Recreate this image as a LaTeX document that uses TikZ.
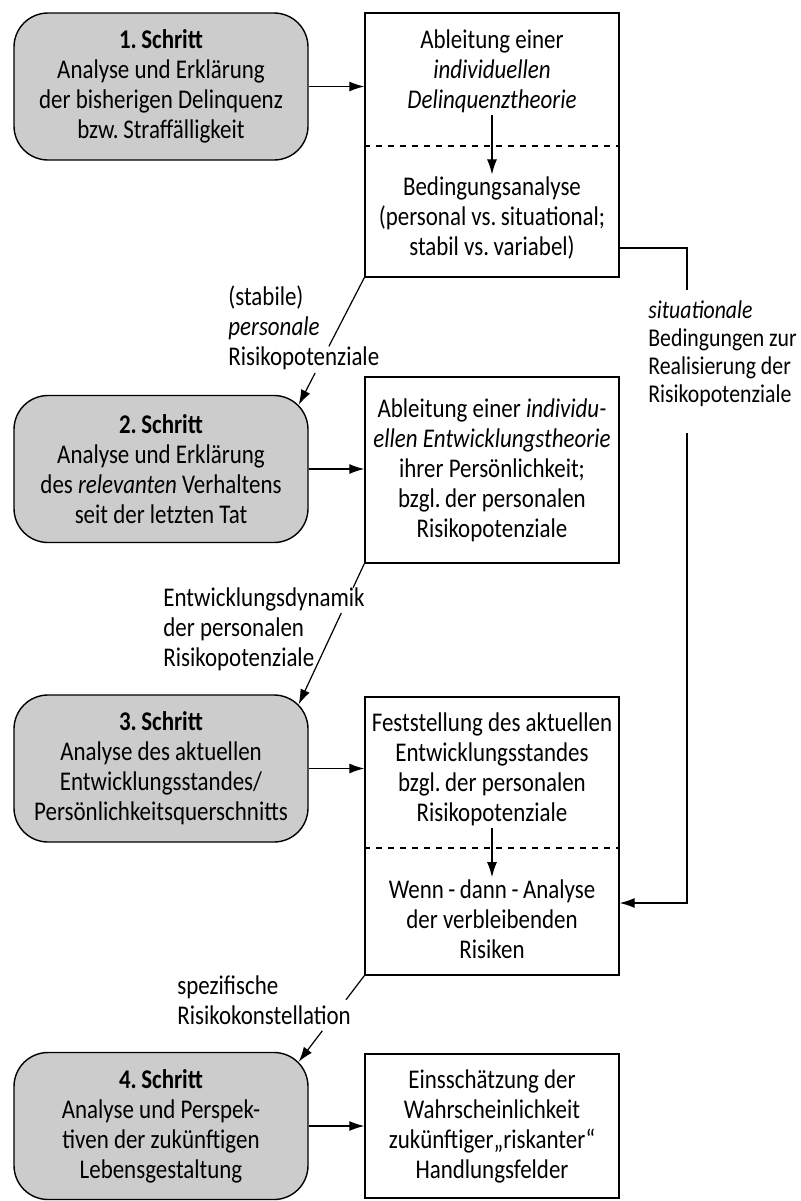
\documentclass[tikz,border=0pt]{standalone}
\usepackage{fontspec}
\setmainfont{Carlito}[FakeStretch=0.85]
\usepackage{tikz}
\usetikzlibrary{arrows.meta, positioning, calc}
\definecolor{stepgray}{gray}{0.80}

\begin{document}
\begin{tikzpicture}[
  x=0.5pt, y=-0.5pt,
  schritt/.style={draw, rounded corners=17pt, fill=stepgray, minimum width=147pt, minimum height=73.5pt, align=center, line width=0.7pt, font=\fontsize{13.5}{15}\selectfont},
  ergebnis/.style={draw, minimum width=127pt, inner xsep=2pt, align=center, line width=0.7pt, font=\fontsize{13.5}{15}\selectfont},
  txt/.style={align=center, inner sep=1pt, font=\fontsize{13.5}{15}\selectfont},
  note/.style={align=left, inner sep=0pt, anchor=west, font=\fontsize{13.5}{15}\selectfont},
  arrow/.style={-{Latex[length=7.5pt,width=5pt]}, line width=0.6pt},
  link/.style={line width=0.6pt}
]
\useasboundingbox (0,0) rectangle (801,1201);

% Schritte links
\node[schritt] (S1) at (161,86.5) {\textbf{1.\,Schritt}\\Analyse und Erklärung\\der bisherigen Delinquenz\\bzw.\,Straffälligkeit};
\node[schritt] (S2) at (161,469) {\textbf{2.\,Schritt}\\Analyse und Erklärung\\des \textit{relevanten} Verhaltens\\seit der letzten Tat};
\node[schritt] (S3) at (161,768.5) {\textbf{3.\,Schritt}\\Analyse des aktuellen\\Entwicklungsstandes/\\Persönlichkeitsquerschnitts};
\node[schritt] (S4) at (161,1126) {\textbf{4.\,Schritt}\\Analyse und Perspek-\\tiven der zukünftigen\\Lebensgestaltung};

% Ergebnisse rechts
\node[ergebnis, minimum height=132pt] (A) at (492,145) {};
\node[txt] (Atop) at (492,71.5) {Ableitung einer\\\textit{individuellen}\\\textit{Delinquenztheorie}};
\node[txt] (Abot) at (492,218) {Bedingungsanalyse\\(personal vs.\,situational;\\stabil vs.\,variabel)};
\draw[dashed, line width=0.6pt] (A.west |- 0,146) -- (A.east |- 0,146);
\draw[arrow] (Atop.south) -- (Abot.north);

\node[ergebnis, minimum height=93pt] (B) at (492,470) {Ableitung einer \textit{individu-}\\\textit{ellen Entwicklungstheorie}\\ihrer Persönlichkeit;\\bzgl.\,der personalen\\Risikopotenziale};

\node[ergebnis, minimum height=139pt] (C) at (492,836) {};
\node[txt] (Ctop) at (492,769.5) {Feststellung des aktuellen\\Entwicklungsstandes\\bzgl.\,der personalen\\Risikopotenziale};
\node[txt] (Cbot) at (492,919) {Wenn\,-\,dann\,-\,Analyse\\der verbleibenden\\Risiken};
\draw[dashed, line width=0.6pt] (C.west |- 0,848) -- (C.east |- 0,848);
\draw[arrow] (Ctop.south) -- (Cbot.north);

\node[ergebnis, minimum height=72pt] (D) at (492,1126) {Einsschätzung der\\Wahrscheinlichkeit\\zukünftiger„riskanter“\\Handlungsfelder};

% waagerechte Pfeile
\draw[arrow] (S1.east) -- (S1.east -| A.west);
\draw[arrow] (S2.east) -- (S2.east -| B.west);
\draw[arrow] (S3.east) -- (S3.east -| C.west);
\draw[arrow] (S4.east) -- (S4.east -| D.west);

% Beschriftungen
\node[note] (lab1) at (228,328) {(stabile)\\\textit{personale}\\Risikopotenziale};
\node[note] (lab2) at (163,629) {Entwicklungsdynamik\\der personalen\\Risikopotenziale};
\node[note] (lab3) at (177,1000) {spezifische\\Risikokonstellation};
\node[note, font=\fontsize{12.8}{14}\selectfont] (lab4) at (648,354) {\textit{situationale}\\Bedingungen zur\\Realisierung der\\Risikopotenziale};

% schraege Verbindungen
\coordinate (t2) at ($(S2.north east)+(-10,10)$);
\coordinate (g1a) at ($(A.south west)!0.54!(t2)$);
\coordinate (g1b) at ($(A.south west)!0.75!(t2)$);
\draw[link] (A.south west) -- (g1a);
\draw[arrow] (g1b) -- (t2);

\coordinate (t3) at ($(S3.north east)+(-10,10)$);
\coordinate (g2a) at ($(B.south west)!0.17!(t3)$);
\coordinate (g2b) at ($(B.south west)!0.35!(t3)$);
\draw[link] (B.south west) -- (g2a);
\draw[arrow] (g2b) -- (t3);

\coordinate (t4) at ($(S4.north east)+(-10,10)$);
\coordinate (g3a) at ($(C.south west)!0.28!(t4)$);
\coordinate (g3b) at ($(C.south west)!0.64!(t4)$);
\draw[link] (C.south west) -- (g3a);
\draw[arrow] (g3b) -- (t4);

% situationale Bedingungen
\coordinate (k1) at (687,290);
\coordinate (k2) at (687,433);
\draw[link] (A.east |- 0,248) -| (k1);
\draw[arrow] (k2) |- (C.east |- 0,903);
\end{tikzpicture}
\end{document}
